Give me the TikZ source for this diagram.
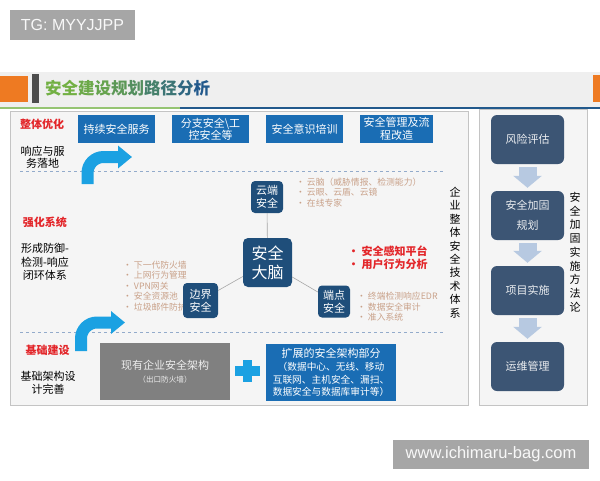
\documentclass[tikz,border=0pt]{standalone}
\usepackage{fontspec}
\setmainfont{Noto Sans CJK SC}
\newfontfamily\latinfont{Liberation Sans}
\usetikzlibrary{arrows.meta}

\definecolor{boxblue}{HTML}{1A6DB4}
\definecolor{nodenavy}{HTML}{1F4E7A}
\definecolor{slate}{HTML}{3C5574}
\definecolor{flowblue}{HTML}{B7C9E1}
\definecolor{skyblue}{HTML}{1BA1E2}
\definecolor{bulletan}{HTML}{C9A189}
\definecolor{alertred}{HTML}{E3262A}
\definecolor{markgray}{HTML}{A6A6A6}
\definecolor{bandgray}{HTML}{EFEFEF}
\definecolor{panelgray}{HTML}{F5F5F5}
\definecolor{rimgray}{HTML}{C4C4C4}
\definecolor{dashblue}{HTML}{93ABCB}
\definecolor{ttlgreen}{HTML}{72B043}
\definecolor{ttlblue}{HTML}{22598C}
\definecolor{orangeblk}{HTML}{EE7A22}
\definecolor{bargray}{HTML}{4D4D4D}
\definecolor{stockgray}{HTML}{808080}

\newcommand\fsz[2]{\fontsize{#1}{#2}\selectfont}

\begin{document}
\begin{tikzpicture}[x=1pt,y=-1pt,
    topbox/.style={fill=boxblue, text=white, minimum width=77pt, minimum height=28pt, inner sep=0pt, align=center, font=\fsz{11}{12.5}},
    hub/.style={fill=nodenavy, text=white, rounded corners=4pt, minimum size=32pt, inner sep=0pt, align=center, font=\fsz{11}{13}},
    phasebox/.style={fill=slate, text=white!90!slate, rounded corners=6pt, minimum width=73pt, minimum height=49pt, inner sep=0pt, align=center, font=\fsz{11}{20}},
    tier/.style={text=alertred, font=\bfseries\fsz{11}{13}, inner sep=0pt},
    note/.style={align=center, font=\fsz{11}{12.5}, inner sep=0pt},
    bullets/.style={text=bulletan, align=left, anchor=west, inner sep=0pt, font=\fsz{8.8}{10.6}},
    spoke/.style={draw=gray!70, line width=0.6pt},
    flowarrow/.style={draw=flowblue, line width=18pt, -{Triangle[width=28pt,length=12pt]}, shorten <=3pt, shorten >=3pt},
    hookarrow/.style={draw=skyblue, line width=12pt, rounded corners=16pt, -{Triangle[width=22pt,length=14pt]}},
    divider/.style={draw=dashblue, dashed, line width=0.7pt},
    vtext/.style={align=center, font=\fsz{11}{13.4}, inner sep=0pt},
    stamp/.style={fill=markgray, text=white!92!markgray, font=\latinfont\fsz{16}{18}, inner sep=0pt}]
  \useasboundingbox (0,0) rectangle (600,480);
  \fill[white] (0,0) rectangle (600,480);
  % watermark
  \node[stamp, minimum width=125pt, minimum height=30pt] (tgmark) at (72.5,25) {TG: MYYJJPP};
  % header band
  \fill[bandgray] (0,72) rectangle (600,107);
  \fill[orangeblk] (0,76) rectangle (28,102);
  \fill[orangeblk] (593,75) rectangle (600,102);
  \fill[bargray] (32,74) rectangle (39,103);
  \fill[ttlgreen!75!white] (0,107) rectangle (180,109);
  \fill[ttlblue] (180,107) rectangle (600,109);
  \node[anchor=west, font=\bfseries\fsz{16.5}{18}, inner sep=0pt] (title) at (45,88)
    {\textcolor{ttlgreen}{安全}\textcolor{ttlblue!8!ttlgreen}{建}\textcolor{ttlblue!15!ttlgreen}{设}\textcolor{ttlblue!28!ttlgreen}{规}\textcolor{ttlblue!38!ttlgreen}{划}\textcolor{ttlblue!55!ttlgreen}{路}\textcolor{ttlblue!68!ttlgreen}{径}\textcolor{ttlblue!85!ttlgreen}{分}\textcolor{ttlblue}{析}};
  % panels
  \draw[rimgray, fill=panelgray] (10,111) rectangle (468,405);
  \draw[rimgray, fill=panelgray] (479,109) rectangle (587,405);
  % left labels
  \node[tier] (tierA) at (42,124) {整体优化};
  \node[note] (noteA) at (42.5,157.5) {响应与服\\务落地};
  \node[tier] (tierB) at (45,222) {强化系统};
  \node[note, font=\fsz{11}{13.5}] (noteB) at (45,262) {形成防御-\\检测-响应\\闭环体系};
  \node[tier] (tierC) at (47.5,350) {基础建设};
  \node[note] (noteC) at (48,383) {基础架构设\\计完善};
  % top services
  \node[topbox] (service) at (116.5,129) {持续安全服务};
  \node[topbox] (branch) at (210.5,129) {分支安全\textbackslash 工\\控安全等};
  \node[topbox] (awareness) at (304.5,129) {安全意识培训};
  \node[topbox, minimum width=73pt] (process) at (396.5,129) {安全管理及流\\程改造};
  % dividers
  \draw[divider] (20,171) -- (443,171);
  \draw[divider] (20,332) -- (443,332);
  % step arrows
  \coordinate (riseA) at (87.5,184);
  \coordinate (tipA) at (132,157);
  \draw[hookarrow] (riseA) |- (tipA);
  \coordinate (riseB) at (81,351);
  \coordinate (tipB) at (125,322.5);
  \draw[hookarrow] (riseB) |- (tipB);
  % lists
  \node[bullets] (cloudlist) at (296,192.5) {• 云脑（威胁情报、检测能力）\\• 云眼、云盾、云镜\\• 在线专家};
  \node[bullets] (edgelist) at (123,286) {• 下一代防火墙\\• 上网行为管理\\• VPN网关\\• 安全资源池\\• 垃圾邮件防护};
  \node[bullets] (endlist) at (357,307) {• 终端检测响应EDR\\• 数据安全审计\\• 准入系统};
  \node[bullets, text=alertred, font=\bfseries\fsz{11}{13}] (alerts) at (348,257.5) {• 安全感知平台\\• 用户行为分析};
  % security brain
  \node[hub, minimum size=49pt, rounded corners=5pt, font=\fsz{16}{19}] (brain) at (267.5,262.5) {安全\\大脑};
  \node[hub] (cloud) at (267,197) {云端\\安全};
  \node[hub, minimum size=35pt] (edge) at (200.5,300.5) {边界\\安全};
  \node[hub] (endpoint) at (334,301.5) {端点\\安全};
  \draw[spoke] (cloud) -- (brain);
  \draw[spoke] (brain) -- (edge);
  \draw[spoke] (brain) -- (endpoint);
  \node[vtext] (techstack) at (455,252.5) {企\\业\\整\\体\\安\\全\\技\\术\\体\\系};
  % bottom row
  \node[fill=stockgray, minimum width=130pt, minimum height=57pt, inner sep=0pt, align=center, text=white!85!stockgray, font=\fsz{11}{13}] (legacy) at (165,371.5)
    {现有企业安全架构\\{\fsz{7.6}{13}（出口防火墙）}};
  \fill[skyblue] (235,366) rectangle (260,376);
  \fill[skyblue] (243,360) rectangle (252,382);
  \node[topbox, minimum width=130pt, minimum height=57pt, font=\fsz{9.7}{12.7}] (extension) at (331,372.5)
    {{\fsz{11}{12.7}扩展的安全架构部分}\\（数据中心、无线、移动\\互联网、主机安全、漏扫、\\数据安全与数据库审计等）};
  % methodology
  \node[phasebox] (risk) at (527.5,139.5) {风险评估};
  \node[phasebox] (plan) at (527.5,215.5) {安全加固\\规划};
  \node[phasebox] (deliver) at (527.5,290.5) {项目实施};
  \node[phasebox] (operate) at (527.5,366.5) {运维管理};
  \draw[flowarrow] (risk) -- (plan);
  \draw[flowarrow] (plan) -- (deliver);
  \draw[flowarrow] (deliver) -- (operate);
  \node[vtext, font=\fsz{11}{13.75}] (method) at (575,252) {安\\全\\加\\固\\实\\施\\方\\法\\论};
  % site watermark
  \node[stamp, minimum width=196pt, minimum height=29pt, font=\latinfont\fsz{16.5}{18}] (sitemark) at (491,454.5) {www.ichimaru-bag.com};
\end{tikzpicture}
\end{document}
